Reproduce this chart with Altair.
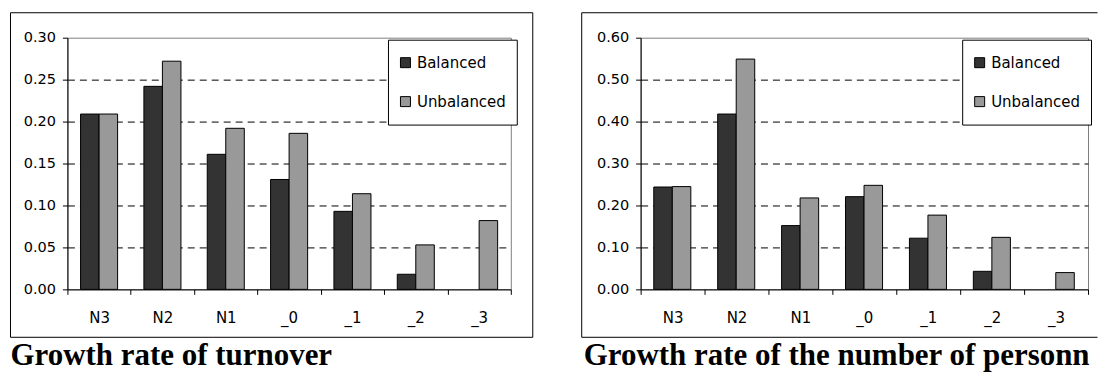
import altair as alt
import pandas as pd

# Categories on the x axis and the two series shown in each panel
categories = ["N3", "N2", "N1", "_0", "_1", "_2", "_3"]
series = ["Balanced", "Unbalanced"]
series_colors = ["#333333", "#999999"]

# Growth rate of turnover (None = no bar)
turnover_balanced = [0.209, 0.242, 0.161, 0.131, 0.093, 0.018, None]
turnover_unbalanced = [0.209, 0.272, 0.192, 0.186, 0.114, 0.053, 0.082]
turnover_ticks = [0.00, 0.05, 0.10, 0.15, 0.20, 0.25, 0.30]

# Growth rate of the number of personnel (None = no bar)
personnel_balanced = [0.244, 0.418, 0.152, 0.221, 0.122, 0.043, None]
personnel_unbalanced = [0.245, 0.549, 0.218, 0.248, 0.177, 0.124, 0.040]
personnel_ticks = [0.00, 0.10, 0.20, 0.30, 0.40, 0.50, 0.60]

turnover_title = "Growth rate of turnover"
personnel_title = "Growth rate of the number of personnel"

SANS = "DejaVu Sans"
SERIF = "Liberation Serif"
PLOT_H = 252


def long_table(balanced, unbalanced):
    rows = []
    for cat, b, u in zip(categories, balanced, unbalanced):
        if b is not None:
            rows.append({"category": cat, "series": series[0], "value": b})
        if u is not None:
            rows.append({"category": cat, "series": series[1], "value": u})
    return pd.DataFrame(rows)


def panel(balanced, unbalanced, ticks, title, width, legend_x, closed_frame, title_limit=None):
    ymax = ticks[-1]
    df = long_table(balanced, unbalanced)

    bars = alt.Chart(df).mark_bar(stroke="black", strokeWidth=1).encode(
        x=alt.X(
            "category:N",
            sort=categories,
            scale=alt.Scale(paddingInner=0, paddingOuter=0),
            axis=alt.Axis(
                title=None, labelAngle=0, tickBand="extent", grid=False,
                tickSize=5, tickColor="black", domainColor="black",
                labelFont=SANS, labelFontSize=15, labelColor="black", labelPadding=16,
            ),
        ),
        xOffset=alt.XOffset(
            "series:N", sort=series,
            scale=alt.Scale(paddingInner=0, paddingOuter=0.71),
        ),
        y=alt.Y(
            "value:Q",
            scale=alt.Scale(domain=[0, ymax], nice=False, zero=True),
            axis=alt.Axis(
                title=None, values=ticks, format=".2f",
                tickSize=5, tickColor="black", domainColor="black",
                labelFont=SANS, labelFontSize=14.5, labelColor="black", labelPadding=7,
                grid=True, gridColor="black", gridDash=[7, 5], gridWidth=1,
                gridOpacity={
                    "condition": {
                        "test": f"datum.value < 0.0001 || datum.value > {ymax - 0.0001}",
                        "value": 0,
                    },
                    "value": 1,
                },
            ),
        ),
        color=alt.Color(
            "series:N", sort=series,
            scale=alt.Scale(domain=series, range=series_colors),
            legend=alt.Legend(
                title=None, orient="none", legendX=legend_x, legendY=2,
                fillColor="white", strokeColor="black", padding=10,
                clipHeight=26, rowPadding=13,
                symbolType="square", symbolSize=100,
                symbolStrokeColor="black", symbolStrokeWidth=1,
                labelFont=SANS, labelFontSize=15, labelColor="black", labelOffset=4,
            ),
        ),
    )

    one = alt.Data(values=[{}])
    if closed_frame:
        frame = [
            alt.Chart(one).mark_rect(fillOpacity=0, stroke="black", strokeWidth=1).encode(
                x=alt.value(-57), x2=alt.value(466), y=alt.value(-25), y2=alt.value(300)
            )
        ]
    else:
        edge = dict(stroke="black", strokeWidth=1)
        frame = [
            alt.Chart(one).mark_rule(**edge).encode(
                x=alt.value(-59), x2=alt.value(457.5), y=alt.value(-25)
            ),
            alt.Chart(one).mark_rule(**edge).encode(
                x=alt.value(-59), x2=alt.value(457.5), y=alt.value(300)
            ),
            alt.Chart(one).mark_rule(**edge).encode(
                x=alt.value(-59), y=alt.value(-25), y2=alt.value(300)
            ),
        ]

    text_opts = dict(
        text=title, font=SERIF, fontSize=31, fontWeight="bold", color="black",
        align="left", baseline="alphabetic",
    )
    if title_limit is not None:
        # cut the caption at the edge with no visible ellipsis
        text_opts.update(limit=title_limit, ellipsis="\u200b")
    caption = alt.Chart(one).mark_text(**text_opts).encode(
        x=alt.value(-57), y=alt.value(328)
    )

    return alt.layer(bars, *frame, caption).properties(width=width, height=PLOT_H)


left = panel(turnover_balanced, turnover_unbalanced, turnover_ticks,
             turnover_title, 444, 321, True)
right = panel(personnel_balanced, personnel_unbalanced, personnel_ticks,
              personnel_title, 448, 322, False, title_limit=514)

chart = (
    alt.hconcat(left, right, spacing=130, bounds="flush")
    .resolve_scale(color="independent", x="independent", y="independent")
    .resolve_legend(color="independent")
    .properties(padding={"left": 9.5, "top": 11.5, "right": 0, "bottom": 0}, background="white")
    .configure(font=SANS)
    .configure_view(stroke="#808080", strokeWidth=1)
)

chart.save("out.html", embed_options={"renderer": "svg", "actions": False})
